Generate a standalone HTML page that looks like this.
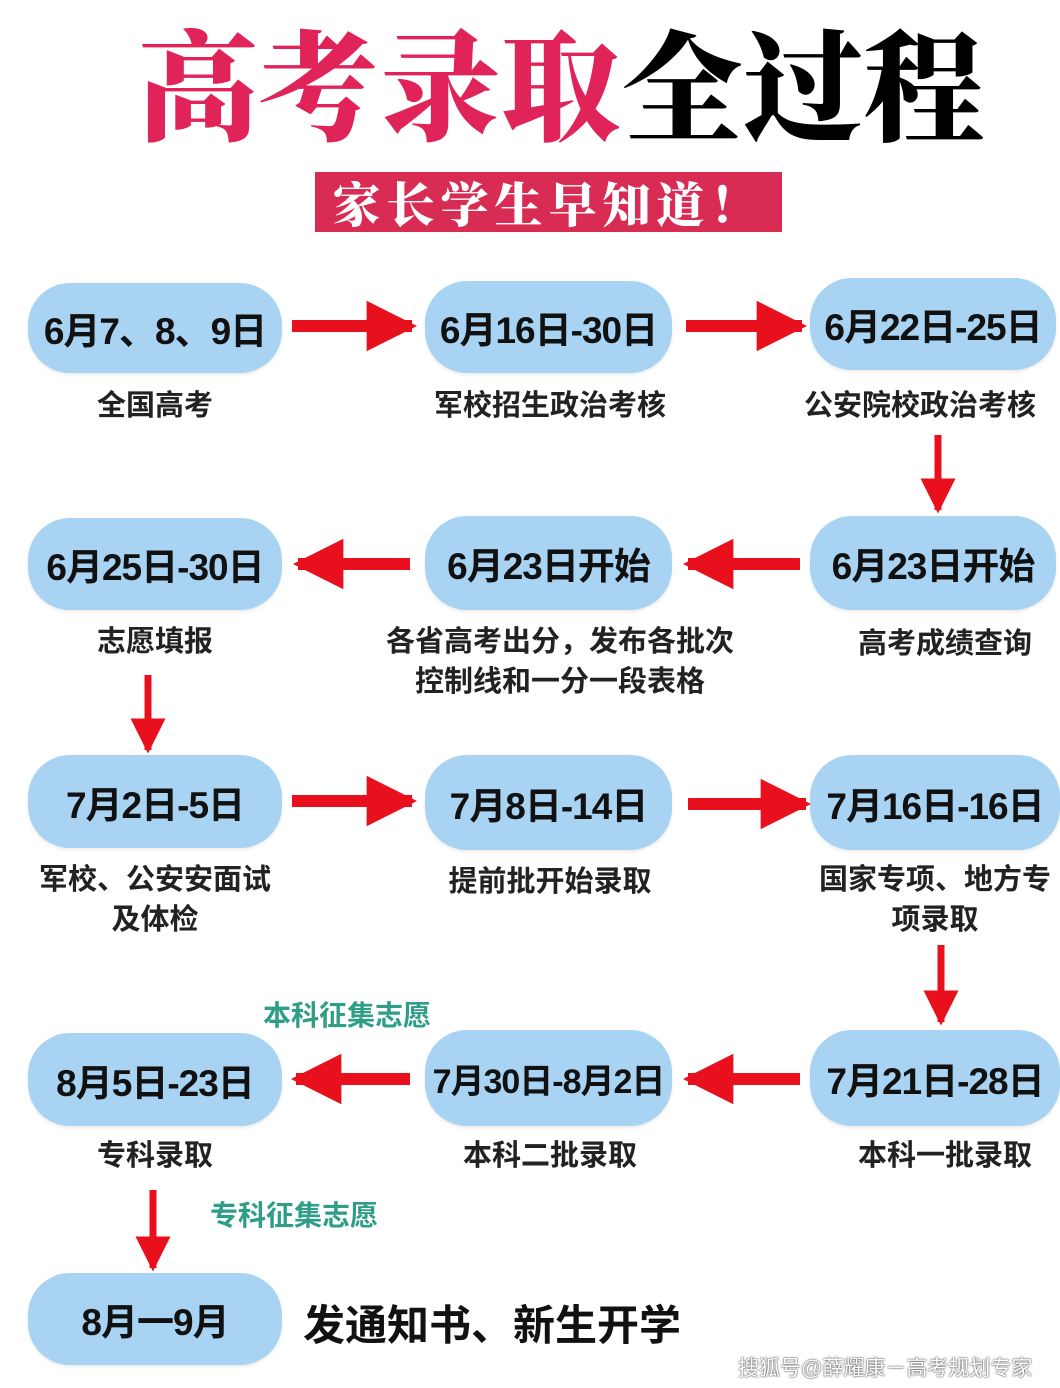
<!DOCTYPE html>
<html><head><meta charset="utf-8">
<style>
body{margin:0;width:1060px;height:1388px;background:#fff;position:relative;overflow:hidden;font-family:"Liberation Sans","Noto Sans CJK SC",sans-serif;}
.t{position:absolute;white-space:nowrap;}
.n{position:absolute;background:#a8d3f3;border-radius:42px;display:flex;align-items:center;justify-content:center;font-weight:bold;font-size:37px;color:#111;letter-spacing:-1px;box-shadow:0 2px 3px rgba(0,0,0,0.08);}
.l{position:absolute;font-weight:bold;font-size:29px;color:#222;text-align:center;line-height:40px;}
.g{position:absolute;font-weight:bold;font-size:28px;color:#2f9e86;}
svg{position:absolute;left:0;top:0;}
</style></head><body>
<div class="t" style="left:138px;top:-6px;font-size:120px;font-weight:900;color:#e0245a;font-family:'Noto Serif CJK SC',serif;letter-spacing:1px;">高考录取<span style="color:#000">全过程</span></div>
<div class="t" style="left:315px;top:172px;width:467px;height:60px;background:#d92c55;color:#fff;font-size:48px;font-weight:900;text-align:center;line-height:60px;letter-spacing:6px;font-family:'Noto Serif CJK SC',serif;">家长学生早知道！</div>

<div class="n" style="left:28px;top:283px;width:254px;height:90px">6月7、8、9日</div>
<div class="n" style="left:425px;top:281px;width:247px;height:92px">6月16日-30日</div>
<div class="n" style="left:810px;top:278px;width:246px;height:92px">6月22日-25日</div>
<div class="l" style="left:28px;top:386px;width:254px">全国高考</div>
<div class="l" style="left:400px;top:386px;width:300px">军校招生政治考核</div>
<div class="l" style="left:775px;top:386px;width:290px">公安院校政治考核</div>

<div class="n" style="left:28px;top:518px;width:254px;height:92px">6月25日-30日</div>
<div class="n" style="left:425px;top:516px;width:247px;height:94px">6月23日开始</div>
<div class="n" style="left:810px;top:516px;width:246px;height:94px">6月23日开始</div>
<div class="l" style="left:28px;top:622px;width:254px">志愿填报</div>
<div class="l" style="left:360px;top:622px;width:400px">各省高考出分，发布各批次<br>控制线和一分一段表格</div>
<div class="l" style="left:810px;top:624px;width:270px">高考成绩查询</div>

<div class="n" style="left:28px;top:755px;width:254px;height:93px">7月2日-5日</div>
<div class="n" style="left:425px;top:755px;width:247px;height:95px">7月8日-14日</div>
<div class="n" style="left:810px;top:755px;width:250px;height:95px">7月16日-16日</div>
<div class="l" style="left:10px;top:860px;width:290px">军校、公安安面试<br>及体检</div>
<div class="l" style="left:400px;top:862px;width:300px">提前批开始录取</div>
<div class="l" style="left:800px;top:860px;width:270px">国家专项、地方专<br>项录取</div>

<div class="g" style="left:263px;top:994px">本科征集志愿</div>
<div class="n" style="left:28px;top:1033px;width:254px;height:93px">8月5日-23日</div>
<div class="n" style="left:425px;top:1030px;width:247px;height:96px;font-size:34px">7月30日-8月2日</div>
<div class="n" style="left:810px;top:1030px;width:250px;height:96px">7月21日-28日</div>
<div class="l" style="left:28px;top:1136px;width:254px">专科录取</div>
<div class="l" style="left:400px;top:1136px;width:300px">本科二批录取</div>
<div class="l" style="left:810px;top:1136px;width:270px">本科一批录取</div>

<div class="g" style="left:210px;top:1194px">专科征集志愿</div>
<div class="n" style="left:28px;top:1273px;width:254px;height:92px">8月一9月</div>
<div class="t" style="left:303px;top:1292px;font-size:42px;font-weight:bold;color:#111">发通知书、新生开学</div>
<div class="t" style="left:738px;top:1352px;font-size:21px;color:#fff;text-shadow:0 0 2px #555,0 0 1px #333">搜狐号@薛耀康－高考规划专家</div>

<svg width="1060" height="1388">
<defs>
<marker id="h" viewBox="0 0 10 10" refX="9" refY="5" markerWidth="4.2" markerHeight="4.4" orient="auto" markerUnits="strokeWidth"><path d="M0,0L10,5L0,10z" fill="#e8101c"/></marker>
<marker id="v" viewBox="0 0 10 10" refX="9" refY="5" markerWidth="5" markerHeight="5" orient="auto" markerUnits="strokeWidth"><path d="M0,0L10,5L0,10z" fill="#e8101c"/></marker>
</defs>
<g stroke="#e8101c" stroke-width="12" marker-end="url(#h)" fill="none">
<line x1="292" y1="326" x2="412" y2="326"/>
<line x1="686" y1="326" x2="802" y2="326"/>
<line x1="410" y1="564" x2="298" y2="564"/>
<line x1="800" y1="564" x2="688" y2="564"/>
<line x1="292" y1="801" x2="412" y2="801"/>
<line x1="688" y1="804" x2="806" y2="804"/>
<line x1="410" y1="1079" x2="296" y2="1079"/>
<line x1="800" y1="1079" x2="688" y2="1079"/>
</g>
<g stroke="#e8101c" stroke-width="7" marker-end="url(#v)" fill="none">
<line x1="938" y1="435" x2="938" y2="510"/>
<line x1="148" y1="675" x2="148" y2="750"/>
<line x1="941" y1="945" x2="941" y2="1022"/>
<line x1="153" y1="1190" x2="153" y2="1268"/>
</g>
</svg>
</body></html>
